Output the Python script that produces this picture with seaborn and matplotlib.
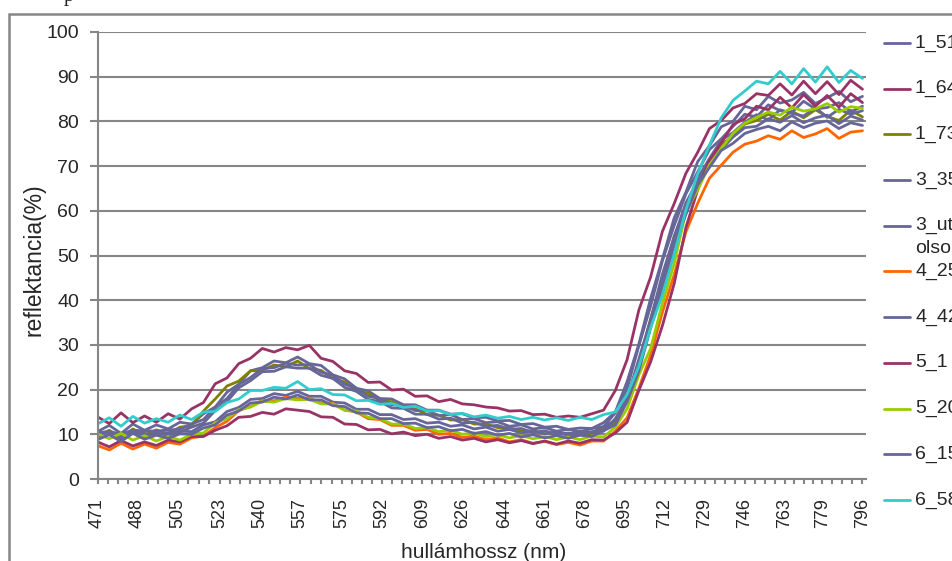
import matplotlib
matplotlib.use('Agg')
import matplotlib.pyplot as plt
from matplotlib import font_manager
from matplotlib.lines import Line2D
from matplotlib.patches import Rectangle
import pandas as pd
import seaborn as sns

# hullamhossz (nm), kb. 5 nm-enkent
hullamhossz = [471, 476, 481, 486, 491, 496, 501, 506, 511, 516, 521,
               526, 531, 536, 541, 546, 551, 556, 561, 566, 571, 576,
               581, 586, 591, 596, 601, 606, 611, 616, 621, 626, 631,
               636, 641, 646, 651, 656, 661, 666, 671, 676, 681, 686,
               691, 696, 701, 706, 711, 716, 721, 726, 731, 736, 741,
               746, 751, 756, 761, 766, 771, 776, 781, 786, 791, 796]

r_1_51 = [10.6, 12.0, 10.2, 12.3, 10.9, 12.1, 11.2, 12.7, 12.3, 14.6, 16.1,
          19.4, 21.2, 24.2, 24.9, 26.4, 26.0, 27.3, 25.8, 25.4, 23.3, 22.4,
          20.3, 19.7, 18.0, 17.9, 16.6, 16.6, 15.4, 15.4, 14.5, 14.6, 13.7,
          13.8, 13.0, 13.1, 12.2, 12.4, 11.6, 11.8, 11.1, 11.4, 11.3, 12.6,
          15.0, 21.8, 30.2, 40.4, 49.2, 58.4, 64.2, 71.0, 74.6, 78.8, 80.0,
          83.4, 82.6, 85.6, 84.1, 84.8, 86.5, 84.0, 85.3, 86.7, 84.4, 85.6]
r_1_64 = [13.9, 12.4, 14.8, 12.6, 14.1, 12.7, 14.6, 13.4, 15.7, 17.1, 21.3,
          22.6, 25.8, 27.0, 29.2, 28.4, 29.4, 28.9, 29.9, 27.0, 26.3, 24.2,
          23.6, 21.6, 21.7, 19.9, 20.1, 18.5, 18.6, 17.3, 17.8, 16.8, 16.6,
          16.1, 15.9, 15.2, 15.3, 14.4, 14.5, 13.8, 14.1, 13.8, 14.6, 15.4,
          19.8, 26.7, 37.8, 45.2, 55.4, 61.6, 68.4, 73.1, 78.4, 80.2, 83.0,
          84.0, 86.2, 85.8, 88.4, 85.9, 89.0, 86.2, 88.9, 86.0, 89.2, 87.2]
r_1_73 = [9.7, 10.9, 9.1, 11.2, 9.8, 11.0, 10.1, 11.6, 11.9, 15.2, 17.9,
          20.8, 21.9, 24.2, 24.3, 25.5, 25.1, 26.4, 24.7, 24.3, 22.5, 21.7,
          19.7, 19.2, 17.5, 17.3, 15.9, 15.7, 14.4, 14.3, 13.2, 13.3, 12.3,
          12.3, 11.5, 11.5, 10.7, 10.8, 10.1, 10.3, 9.8, 10.0, 10.1, 11.1,
          12.8, 18.3, 25.7, 35.8, 44.7, 54.3, 60.7, 66.9, 70.6, 74.9, 76.6,
          79.4, 80.2, 81.6, 80.3, 82.3, 80.8, 82.6, 81.1, 80.2, 82.5, 81.0]
r_3_35 = [10.4, 10.6, 10.1, 10.9, 10.8, 10.7, 11.0, 11.1, 12.3, 13.3, 16.1,
          18.0, 21.1, 22.7, 24.7, 24.9, 25.9, 25.5, 25.6, 23.9, 23.2, 21.2,
          20.3, 18.5, 18.0, 16.6, 16.5, 15.3, 15.3, 14.2, 14.4, 13.3, 13.5,
          12.6, 12.8, 11.8, 12.1, 11.2, 11.5, 10.7, 11.1, 10.5, 11.3, 11.7,
          14.8, 20.2, 29.8, 38.7, 48.8, 56.7, 63.8, 68.7, 73.7, 76.1, 78.9,
          81.6, 81.0, 83.7, 82.4, 82.0, 84.5, 82.8, 83.1, 84.2, 82.1, 83.4]
r_3_utolso = [9.4, 10.5, 9.0, 10.8, 9.5, 10.4, 9.7, 10.7, 10.6, 12.1, 12.8,
              15.1, 16.0, 17.8, 18.0, 19.1, 18.7, 19.6, 18.5, 18.5, 17.2, 17.0,
              15.6, 15.6, 14.4, 14.4, 13.3, 13.5, 12.5, 12.7, 11.8, 12.1, 11.2,
              11.6, 10.7, 11.1, 10.3, 10.8, 10.1, 10.6, 10.0, 10.7, 10.4, 11.7,
              13.1, 18.3, 25.2, 34.8, 43.7, 53.3, 60.2, 67.3, 71.7, 75.8, 77.5,
              79.8, 81.5, 80.3, 82.6, 81.8, 81.2, 83.1, 80.9, 82.7, 81.6, 82.4]
r_4_25 = [7.5, 6.5, 8.0, 6.7, 7.8, 6.9, 8.2, 7.8, 9.2, 9.6, 11.5,
          12.9, 15.3, 16.2, 17.6, 17.5, 18.3, 18.0, 18.1, 17.0, 16.9, 15.4,
          15.0, 13.5, 13.3, 12.0, 12.0, 10.9, 11.1, 10.0, 10.2, 9.3, 9.6,
          8.8, 9.2, 8.3, 8.8, 8.0, 8.4, 7.7, 8.2, 7.6, 8.5, 8.5,
          10.7, 13.7, 20.3, 27.7, 37.3, 45.7, 55.3, 61.7, 67.3, 70.2, 73.1,
          74.9, 75.6, 76.8, 76.0, 77.9, 76.4, 77.2, 78.4, 76.2, 77.6, 77.9]
r_4_42 = [9.8, 10.0, 9.5, 10.3, 10.2, 9.9, 10.4, 10.5, 11.6, 12.5, 15.3,
          17.3, 20.4, 22.0, 24.0, 24.1, 25.1, 24.8, 24.8, 23.2, 22.5, 20.5,
          19.6, 17.8, 17.3, 15.9, 15.8, 14.5, 14.5, 13.4, 13.6, 12.5, 12.7,
          11.8, 12.0, 11.1, 11.3, 10.4, 10.8, 9.9, 10.3, 9.8, 10.6, 10.7,
          13.5, 18.1, 26.8, 35.7, 45.8, 54.2, 61.8, 66.7, 71.5, 73.7, 76.5,
          78.6, 78.9, 80.6, 79.8, 81.3, 79.7, 80.8, 81.4, 79.5, 81.2, 80.3]
r_5_1 = [8.3, 7.2, 8.6, 7.4, 8.3, 7.5, 8.7, 8.3, 9.5, 9.5, 10.9,
         11.9, 13.8, 14.0, 14.9, 14.5, 15.7, 15.4, 15.1, 13.9, 13.8, 12.3,
         12.2, 11.0, 11.1, 10.1, 10.5, 9.7, 10.0, 9.1, 9.5, 8.7, 9.1,
         8.3, 8.8, 8.1, 8.6, 7.9, 8.5, 7.8, 8.5, 8.0, 8.8, 8.7,
         10.3, 12.7, 19.8, 26.2, 34.3, 43.7, 56.3, 64.7, 71.3, 75.2, 79.3,
         80.6, 83.4, 82.6, 85.4, 83.0, 86.0, 83.4, 85.8, 83.2, 86.2, 84.2]
r_5_20 = [10.1, 9.0, 10.2, 8.7, 9.7, 8.5, 9.5, 8.7, 10.0, 10.3, 12.6,
          13.5, 15.5, 16.1, 17.4, 17.2, 18.0, 17.7, 17.8, 16.8, 16.8, 15.4,
          15.2, 13.8, 13.5, 12.3, 12.3, 11.3, 11.5, 10.6, 10.9, 10.0, 10.3,
          9.5, 9.9, 9.2, 9.7, 9.0, 9.5, 8.8, 9.4, 8.8, 9.6, 9.4,
          11.6, 15.7, 23.3, 29.2, 39.3, 48.2, 59.8, 64.7, 70.3, 73.9, 77.3,
          79.6, 80.9, 82.1, 81.4, 83.2, 82.3, 82.8, 84.0, 82.1, 83.3, 82.9]
r_6_15 = [8.8, 9.9, 8.4, 10.2, 8.9, 9.8, 9.1, 10.1, 10.0, 11.4, 12.1,
          14.3, 15.2, 17.0, 17.2, 18.3, 17.9, 18.8, 17.7, 17.7, 16.4, 16.2,
          14.8, 14.7, 13.5, 13.5, 12.4, 12.5, 11.5, 11.7, 10.8, 11.1, 10.2,
          10.6, 9.8, 10.2, 9.4, 9.9, 9.2, 9.7, 9.1, 9.8, 9.5, 10.8,
          12.1, 17.3, 24.2, 33.8, 42.7, 52.3, 59.2, 65.8, 69.7, 73.5, 75.1,
          77.3, 78.2, 78.9, 77.9, 79.9, 78.6, 79.6, 80.1, 78.4, 79.7, 79.1]
r_6_58 = [12.3, 13.7, 11.8, 14.0, 12.5, 13.5, 12.7, 14.3, 13.3, 15.0, 15.1,
          17.1, 17.9, 19.8, 19.8, 20.5, 20.3, 21.8, 20.0, 20.2, 18.9, 18.8,
          17.5, 17.6, 16.7, 16.9, 16.0, 16.3, 15.2, 15.3, 14.4, 14.7, 13.9,
          14.3, 13.6, 14.0, 13.3, 13.8, 13.2, 13.7, 13.1, 13.8, 13.3, 14.4,
          15.0, 18.9, 25.2, 33.8, 41.2, 50.3, 60.2, 68.3, 74.7, 80.8, 84.7,
          86.8, 89.0, 88.4, 91.2, 88.4, 91.8, 88.8, 92.2, 88.7, 91.4, 89.6]

minta = ['1_51', '1_64', '1_73', '3_35', '3_utolso', '4_25',
         '4_42', '5_1', '5_20', '6_15', '6_58']
ertekek = [r_1_51, r_1_64, r_1_73, r_3_35, r_3_utolso, r_4_25,
           r_4_42, r_5_1, r_5_20, r_6_15, r_6_58]
szinek = ['#666699', '#993366', '#808000', '#666699', '#666699', '#FF6600',
          '#666699', '#993366', '#99CC00', '#666699', '#33CCCC']

tick_cimkek = ['471', '488', '505', '523', '540', '557', '575', '592', '609', '626',
               '644', '661', '678', '695', '712', '729', '746', '763', '779', '796']

sns.set_style('white')
plt.rcParams['font.family'] = ['Liberation Sans', 'DejaVu Sans']


def van_font(nev):
    try:
        font_manager.findfont(font_manager.FontProperties(family=nev),
                              fallback_to_default=False)
        return True
    except ValueError:
        return False


df = pd.DataFrame({
    'hullamhossz': hullamhossz * len(minta),
    'reflektancia': [v for sor in ertekek for v in sor],
    'minta': [m for m in minta for _ in hullamhossz],
})

W, H = 952, 561
fig = plt.figure(figsize=(W / 100, H / 100), dpi=100)
# plot area in pixels
L, R, T, B = 97.5, 866, 32, 479
ax = fig.add_axes([L / W, 1 - B / H, (R - L) / W, (B - T) / H])

gray = '#868686'
sns.lineplot(data=df, x='hullamhossz', y='reflektancia', hue='minta',
             hue_order=minta, palette=dict(zip(minta, szinek)),
             linewidth=2.0, estimator=None, sort=False, legend=False, ax=ax)

ax.set_xlim(471, 797.5)
ax.set_ylim(0, 100)
ax.set_yticks(range(0, 101, 10))
ax.yaxis.grid(True, color=gray, linewidth=1.5)
ax.set_axisbelow(True)

# rotated labels look squeezed in the original: narrow face if there is one
if van_font('Liberation Sans Narrow'):
    xt_font, xt_size = 'Liberation Sans Narrow', 14
else:
    xt_font, xt_size = 'Liberation Sans', 13

pos = [float(t) for t in tick_cimkek]
ax.set_xticks(pos)
ax.set_xticklabels(tick_cimkek, rotation=90, family=xt_font, fontsize=xt_size)
minor = []
for a, b in zip(pos[:-1], pos[1:]):
    minor += [a + (b - a) * k / 4 for k in (1, 2, 3)]
ax.set_xticks(minor, minor=True)

for s in ['top', 'right']:
    ax.spines[s].set_visible(False)
for s in ['left', 'bottom']:
    ax.spines[s].set_color(gray)
    ax.spines[s].set_linewidth(1.5)

ax.tick_params(axis='y', which='major', direction='out', length=5.8, width=1.5,
               color=gray, pad=7.5, labelsize=14, left=True)
ax.tick_params(axis='x', which='both', direction='out', length=3.6, width=1.5,
               color=gray, pad=10.0, bottom=True)

ax.set_xlabel('hullámhossz (nm)', fontsize=15)
ax.set_ylabel('reflektancia(%)', fontsize=16.5)
ax.xaxis.set_label_coords(0.502, -(553 - B) / (B - T))
ax.xaxis.label.set_va('center')
ax.yaxis.set_label_coords((34 - L) / (R - L), (B - 260) / (B - T))
ax.yaxis.label.set_va('center')

# legend: narrow Excel legend, cut by the picture edge
for i, (nev, szin) in enumerate(zip(minta, szinek)):
    yy = 43 + i * 45.7
    fig.add_artist(Line2D([884 / W, 910 / W], [1 - yy / H] * 2, color=szin, lw=2.0))
    sorok = [nev[:4], nev[4:]] if len(nev) > 4 else [nev]
    for j, sz in enumerate(sorok):
        fig.text(915 / W, 1 - (yy + j * 23) / H, sz, fontsize=14, va='center', ha='left')

# chart area border and clipped title glyph
fig.add_artist(Rectangle((8.5 / W, -0.5), 2, 1.5 - 13.5 / H, transform=fig.transFigure,
                         fill=False, edgecolor=gray, lw=1.8))
fig.text(64 / W, 1 - 0.5 / H, 'p', fontsize=15, family='Liberation Serif', va='baseline')

fig.savefig('out.png', dpi=100)
